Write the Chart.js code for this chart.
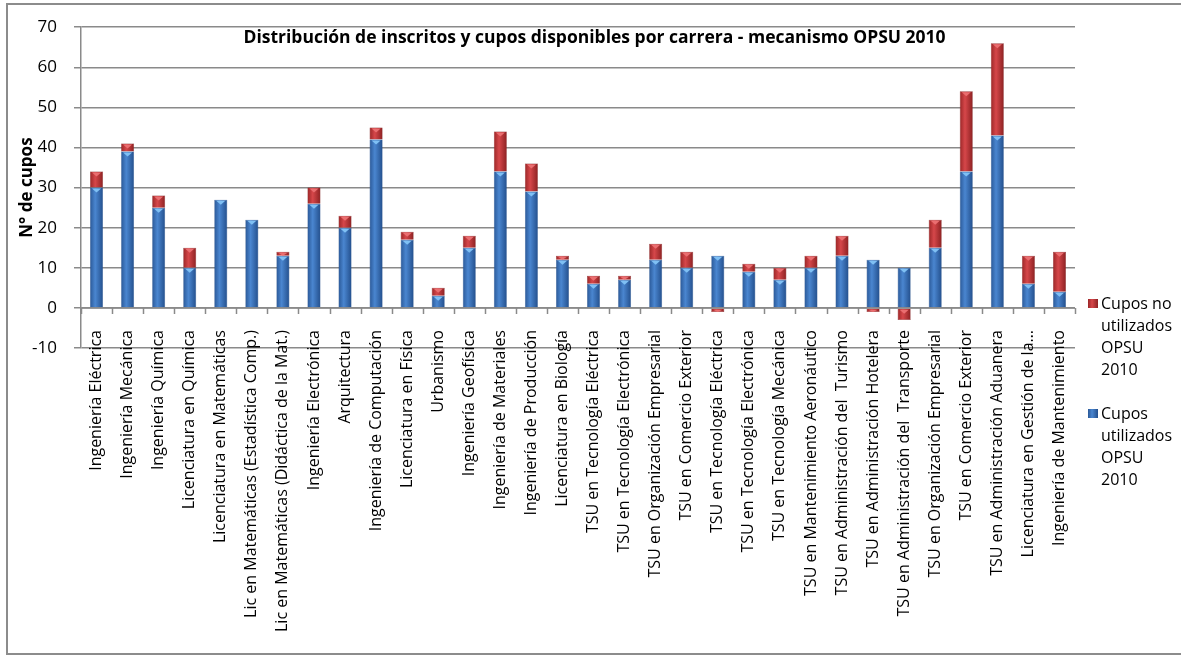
<!DOCTYPE html>
<html lang="es">
<head>
<meta charset="utf-8">
<title>Distribución de inscritos y cupos disponibles por carrera - mecanismo OPSU 2010</title>
<script src="https://cdn.jsdelivr.net/npm/chart.js@4.4.1/dist/chart.umd.min.js"></script>
<style>
  html, body { margin: 0; padding: 0; background: #fff; }
  #wrap { position: relative; width: 1181px; height: 656px; overflow: hidden; font-family: "Open Sans", sans-serif; }
  #frame { position: absolute; left: 6px; top: 3px; width: 1220px; height: 652px; border: 2px solid #8c8c8c; box-sizing: border-box; }
  canvas { position: absolute; left: 0; top: 0; }
  #legend { position: absolute; left: 1088px; top: 292px; font-size: 16px; line-height: 22px; color: #000; }
  .item { display: flex; align-items: flex-start; margin-bottom: 22px; }
  .box { width: 10px; height: 9px; margin: 7px 3px 0 0; flex: none; }
  .red { background: linear-gradient(to right, #9a2627, #d6474a 40%, #8c2122); }
  .blue { background: linear-gradient(to right, #2a5897, #4a86d0 40%, #234f8c); }
</style>
</head>
<body>
<div id="wrap">
  <div id="frame"></div>
  <canvas id="chart" width="1181" height="656"></canvas>
  <div id="legend">
    <div class="item"><span class="box red"></span><span>Cupos no<br>utilizados<br>OPSU<br>2010</span></div>
    <div class="item"><span class="box blue"></span><span>Cupos<br>utilizados<br>OPSU<br>2010</span></div>
  </div>
</div>
<script>
const categories = [
  'Ingeniería Eléctrica', 'Ingeniería Mecánica', 'Ingeniería Química', 'Licenciatura en Química',
  'Licenciatura en Matemáticas', 'Lic en Matemáticas (Estadística Comp.)',
  'Lic en Matemáticas (Didáctica de la Mat.)', 'Ingeniería Electrónica', 'Arquitectura',
  'Ingeniería de Computación', 'Licenciatura en Física', 'Urbanismo', 'Ingeniería Geofísica',
  'Ingeniería de Materiales', 'Ingeniería de Producción', 'Licenciatura en Biología',
  'TSU en Tecnología Eléctrica', 'TSU en Tecnología Electrónica', 'TSU en Organización Empresarial',
  'TSU en Comercio Exterior', 'TSU en Tecnología Eléctrica', 'TSU en Tecnología Electrónica',
  'TSU en Tecnología Mecánica', 'TSU en Mantenimiento Aeronáutico', 'TSU en Administración del  Turismo',
  'TSU en Administración Hotelera', 'TSU en Administración del  Transporte',
  'TSU en Organización Empresarial', 'TSU en Comercio Exterior', 'TSU en Administración Aduanera',
  'Licenciatura en Gestión de la…', 'Ingeniería de Mantenimiento'
];
const usedSeats   = [30, 39, 25, 10, 27, 22, 13, 26, 20, 42, 17, 3, 15, 34, 29, 12, 6, 7, 12, 10, 13, 9, 7, 10, 13, 12, 10, 15, 34, 43, 6, 4];
const unusedSeats = [4, 2, 3, 5, 0, 0, 1, 4, 3, 3, 2, 2, 3, 10, 7, 1, 2, 1, 4, 4, -1, 2, 3, 3, 5, -1, -3, 7, 20, 23, 7, 10];
const yTicks = { min: -10, max: 70, step: 10 };

const GRID = '#8a8a8a';
const BAR_PCT = 0.42;
const BLUE = { edge: '#2a5897', light: '#4a86d0', dark: '#234f8c', tip: '#7fc0f4' };
const RED = { edge: '#9a2627', light: '#d6474a', dark: '#8c2122', tip: '#ea6e70' };

// horizontal gradient across each bar, built from the category scale
function barFill(c) {
  return (ctx) => {
    const x = ctx.chart.scales.x;
    if (!x || ctx.type !== 'data') return c.light;
    const cx = x.getPixelForValue(ctx.dataIndex);
    const half = (x.getPixelForValue(1) - x.getPixelForValue(0)) * BAR_PCT / 2;
    if (!isFinite(cx) || !isFinite(half) || half <= 0) return c.light;
    const g = ctx.chart.ctx.createLinearGradient(cx - half, 0, cx + half, 0);
    g.addColorStop(0, c.edge);
    g.addColorStop(0.4, c.light);
    g.addColorStop(1, c.dark);
    return g;
  };
}

const zeroAxis = {
  id: 'zeroAxis',
  beforeDatasetsDraw(chart) {
    const { ctx, chartArea, scales: { x, y } } = chart;
    const y0 = y.getPixelForValue(0);
    const step = x.getPixelForValue(1) - x.getPixelForValue(0);
    ctx.save();
    ctx.strokeStyle = GRID;
    ctx.lineWidth = 1.5;
    ctx.beginPath();
    ctx.moveTo(chartArea.left, y0);
    ctx.lineTo(chartArea.right, y0);
    for (let i = 0; i <= categories.length; i++) {
      const px = Math.round(x.getPixelForValue(i) - step / 2) + 0.5;
      ctx.moveTo(px, y0);
      ctx.lineTo(px, y0 + 6);
    }
    ctx.stroke();
    ctx.restore();
  }
};

// small bevel triangle on top of each segment, like the Excel preset
const bevelTips = {
  id: 'bevelTips',
  afterDatasetsDraw(chart) {
    const { ctx } = chart;
    chart.data.datasets.forEach((ds, di) => {
      const meta = chart.getDatasetMeta(di);
      const col = di === 0 ? BLUE.tip : RED.tip;
      meta.data.forEach((bar, i) => {
        const v = ds.data[i];
        if (!v) return;
        const { x, y, base, width } = bar.getProps(['x', 'y', 'base', 'width'], true);
        const top = v > 0 ? y : base;
        const hw = width / 2 - 2;
        ctx.save();
        ctx.fillStyle = col;
        ctx.beginPath();
        ctx.moveTo(x - hw, top + 1);
        ctx.lineTo(x + hw, top + 1);
        ctx.lineTo(x, top + Math.min(5, Math.abs(y - base)));
        ctx.closePath();
        ctx.fill();
        ctx.restore();
      });
    });
  }
};

const innerTitle = {
  id: 'innerTitle',
  afterDraw(chart) {
    const { ctx } = chart;
    ctx.save();
    ctx.font = 'bold 17.5px "Open Sans", sans-serif';
    ctx.fillStyle = '#000';
    ctx.textAlign = 'center';
    ctx.textBaseline = 'middle';
    ctx.fillText('Distribución de inscritos y cupos disponibles por carrera - mecanismo OPSU 2010', chart.width / 2 + 4, 38);
    ctx.restore();
  }
};

new Chart(document.getElementById('chart'), {
  type: 'bar',
  data: {
    labels: categories,
    datasets: [
      {
        label: 'Cupos utilizados OPSU 2010',
        data: usedSeats,
        backgroundColor: barFill(BLUE),
        borderColor: '#1f4a86',
        borderWidth: 0.5,
        barPercentage: BAR_PCT,
        categoryPercentage: 1,
      },
      {
        label: 'Cupos no utilizados OPSU 2010',
        data: unusedSeats,
        backgroundColor: barFill(RED),
        borderColor: '#7e1d1e',
        borderWidth: 0.5,
        barPercentage: BAR_PCT,
        categoryPercentage: 1,
      },
    ],
  },
  options: {
    responsive: false,
    animation: false,
    layout: { padding: { left: 8, right: 106, top: 16, bottom: 0 } },
    plugins: {
      legend: { display: false },
      title: { display: false },
      tooltip: { enabled: false },
    },
    scales: {
      x: {
        stacked: true,
        grid: { display: false, drawTicks: false },
        border: { display: false },
        ticks: {
          autoSkip: false,
          maxRotation: 90,
          minRotation: 90,
          padding: -18,
          color: '#000',
          font: { family: '"Open Sans", sans-serif', size: 16 },
        },
        afterFit: (s) => {
          s.height = 308;
          // labels start above the -10 line, so don't clip them to the axis box
          s._computeLabelArea = () => undefined;
        },
      },
      y: {
        stacked: true,
        min: yTicks.min,
        max: yTicks.max,
        grid: { color: GRID, lineWidth: 1.5, tickLength: 7 },
        border: { color: GRID, width: 1.5 },
        ticks: {
          stepSize: yTicks.step,
          padding: 17,
          color: '#000',
          font: { family: '"Open Sans", sans-serif', size: 17 },
        },
        title: {
          display: true,
          text: 'N° de cupos',
          color: '#000',
          padding: { top: 9, bottom: 0 },
          font: { family: '"Open Sans", sans-serif', size: 17, weight: 'bold' },
        },
        afterFit: (s) => { s.width = 73; },
      },
    },
  },
  plugins: [zeroAxis, bevelTips, innerTitle],
});
</script>
</body>
</html>
